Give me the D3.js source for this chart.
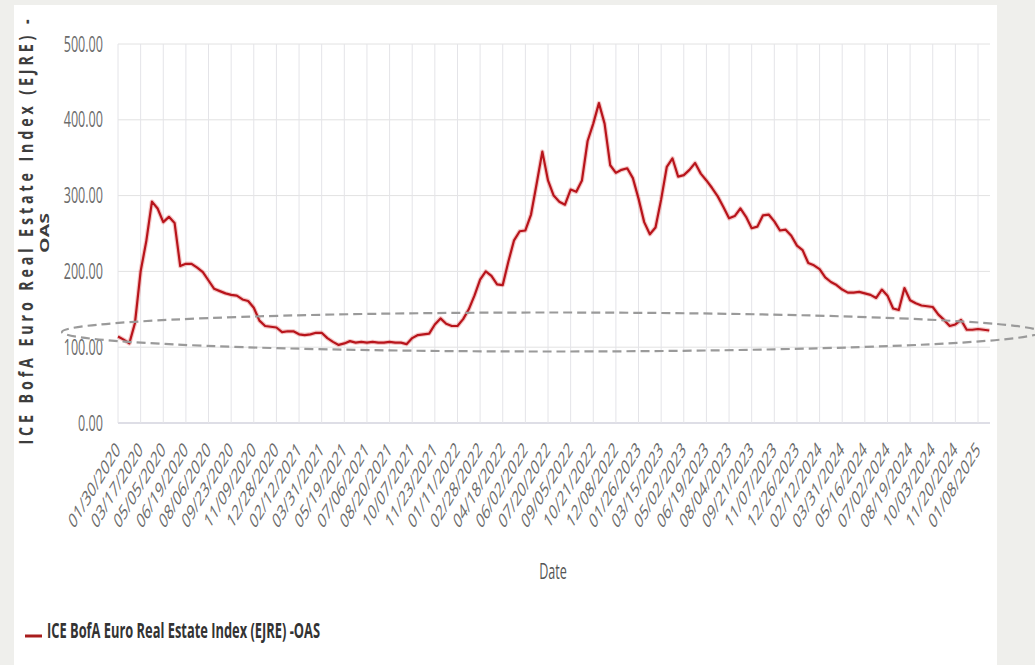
<!DOCTYPE html>
<html>
<head>
<meta charset="utf-8">
<script src="https://cdn.jsdelivr.net/npm/d3@7"></script>
<style>
  html, body { margin: 0; padding: 0; background: #efefec; }
  svg { display: block; }
  text { font-family: "Open Sans", "Noto Sans", sans-serif; }
</style>
</head>
<body>
<svg id="chart" width="1035" height="665"></svg>
<script>
// ---- data (values sampled every 1/4 of a tick interval) ----
const tickLabels = ["01/30/2020","03/17/2020","05/05/2020","06/19/2020","08/06/2020","09/23/2020",
  "11/09/2020","12/28/2020","02/12/2021","03/31/2021","05/19/2021","07/06/2021","08/20/2021",
  "10/07/2021","11/23/2021","01/11/2022","02/28/2022","04/18/2022","06/02/2022","07/20/2022",
  "09/05/2022","10/21/2022","12/08/2022","01/26/2023","03/15/2023","05/02/2023","06/19/2023",
  "08/04/2023","09/21/2023","11/07/2023","12/26/2023","02/12/2024","03/31/2024","05/16/2024",
  "07/02/2024","08/19/2024","10/03/2024","11/20/2024","01/08/2025"];
const sampleStep = 0.25;
const oasValues = [
  114,110,105,132,200,240,292,283,265,272,
  264,207,210,210,205,199,188,177,174,171,
  169,168,163,161,152,135,128,127,126,120,
  121,121,117,116,117,119,119,112,107,103,
  105,108,106,107,106,107,106,106,107,106,
  106,104,112,116,117,118,130,138,131,128,
  128,137,150,168,189,200,194,183,182,213,
  241,253,254,275,316,358,320,300,292,288,
  308,305,320,372,395,422,395,340,330,334,
  336,323,296,265,249,258,295,338,349,325,
  327,334,343,329,320,310,299,285,270,273,
  283,272,257,259,274,275,266,254,255,247,
  234,228,211,208,203,192,186,182,176,172,
  172,173,171,169,165,176,168,151,149,178,
  162,158,155,154,153,143,136,128,130,136,
  123,123,124,123,122];
const yTicks = [0, 100, 200, 300, 400, 500];
const seriesName = "ICE BofA Euro Real Estate Index (EJRE) -OAS";
const yTitleLines = ["ICE BofA Euro Real Estate Index (EJRE) -", "OAS"];
const xTitle = "Date";

// ---- layout ----
const svg = d3.select("#chart");
const SX = 0.6; // horizontal squeeze of the text in the picture
const plot = { left: 118, right: 990, top: 44, bottom: 423 };

svg.append("rect").attr("x", 14).attr("y", 5).attr("width", 983).attr("height", 665)
  .attr("fill", "#ffffff");

const x = d3.scaleLinear().domain([0, tickLabels.length - 1]).range([118, 978]);
const y = d3.scaleLinear().domain([0, 500]).range([plot.bottom, plot.top]);

// horizontal grid
svg.append("g").selectAll("line").data(yTicks).join("line")
  .attr("x1", plot.left).attr("x2", plot.right)
  .attr("y1", d => y(d)).attr("y2", d => y(d))
  .attr("stroke", d => d === 0 ? "#d3d3de" : "#e2e2e2").attr("stroke-width", d => d === 0 ? 1.5 : 1);

// vertical grid
svg.append("g").selectAll("line").data(d3.range(tickLabels.length)).join("line")
  .attr("x1", d => x(d)).attr("x2", d => x(d))
  .attr("y1", plot.top).attr("y2", plot.bottom)
  .attr("stroke", "#e4e4e8").attr("stroke-width", 1);

// y tick labels
svg.append("g").selectAll("text").data(yTicks).join("text")
  .attr("transform", d => `translate(103,${y(d) + 7.5}) scale(${SX},1)`)
  .attr("text-anchor", "end").attr("font-size", 21).attr("fill", "#6b6b6b")
  .text(d => d3.format(".2f")(d));

// x tick labels
svg.append("g").selectAll("text").data(tickLabels).join("text")
  .attr("transform", (d, i) => `translate(${x(i) + 3},451) scale(${SX},1) rotate(-45)`)
  .attr("text-anchor", "end").attr("font-size", 21).attr("fill", "#6b6b6b")
  .text(d => d);

// x title
svg.append("text")
  .attr("transform", `translate(553,579) scale(${SX},1)`)
  .attr("text-anchor", "middle").attr("font-size", 21).attr("fill", "#555")
  .text(xTitle);

// y title
const TS = 0.75;
svg.append("text")
  .attr("transform", `translate(33,232) rotate(-90) scale(${TS},1)`)
  .attr("text-anchor", "middle").attr("font-family", "DejaVu Sans").attr("font-weight", "bold")
  .attr("font-size", 19).attr("fill", "#3d3d3d")
  .attr("textLength", 425 / TS).attr("lengthAdjust", "spacing")
  .text(yTitleLines[0]);
svg.append("text")
  .attr("transform", "translate(49,233) rotate(-90) scale(1,0.75)")
  .attr("text-anchor", "middle").attr("font-family", "DejaVu Sans").attr("font-weight", "bold")
  .attr("font-size", 17).attr("fill", "#3d3d3d")
  .attr("textLength", 40).attr("lengthAdjust", "spacingAndGlyphs")
  .text(yTitleLines[1]);

// series line
const line = d3.line()
  .x((d, i) => x(i * sampleStep))
  .y(d => y(d));
svg.append("path").datum(oasValues)
  .attr("d", line).attr("fill", "none")
  .attr("stroke", "#e06060").attr("stroke-opacity", 0.35).attr("stroke-width", 4.5)
  .attr("stroke-linejoin", "round");
svg.append("path").datum(oasValues)
  .attr("d", line).attr("fill", "none")
  .attr("stroke", "#b8141b").attr("stroke-width", 2.2)
  .attr("stroke-linejoin", "round");

// legend
svg.append("line").attr("x1", 25).attr("x2", 42).attr("y1", 636).attr("y2", 636)
  .attr("stroke", "#a81c1c").attr("stroke-width", 3);
svg.append("text")
  .attr("transform", `translate(47,638) scale(${SX},1)`)
  .attr("font-size", 21).attr("font-weight", 700).attr("fill", "#333")
  .attr("textLength", 273 / SX).attr("lengthAdjust", "spacingAndGlyphs")
  .text(seriesName);

// annotation ellipse
svg.append("ellipse")
  .attr("cx", 551).attr("cy", 332).attr("rx", 489).attr("ry", 19.5)
  .attr("fill", "none").attr("stroke", "#9a9a9a").attr("stroke-width", 2.2)
  .attr("stroke-dasharray", "9,5");
</script>
</body>
</html>
